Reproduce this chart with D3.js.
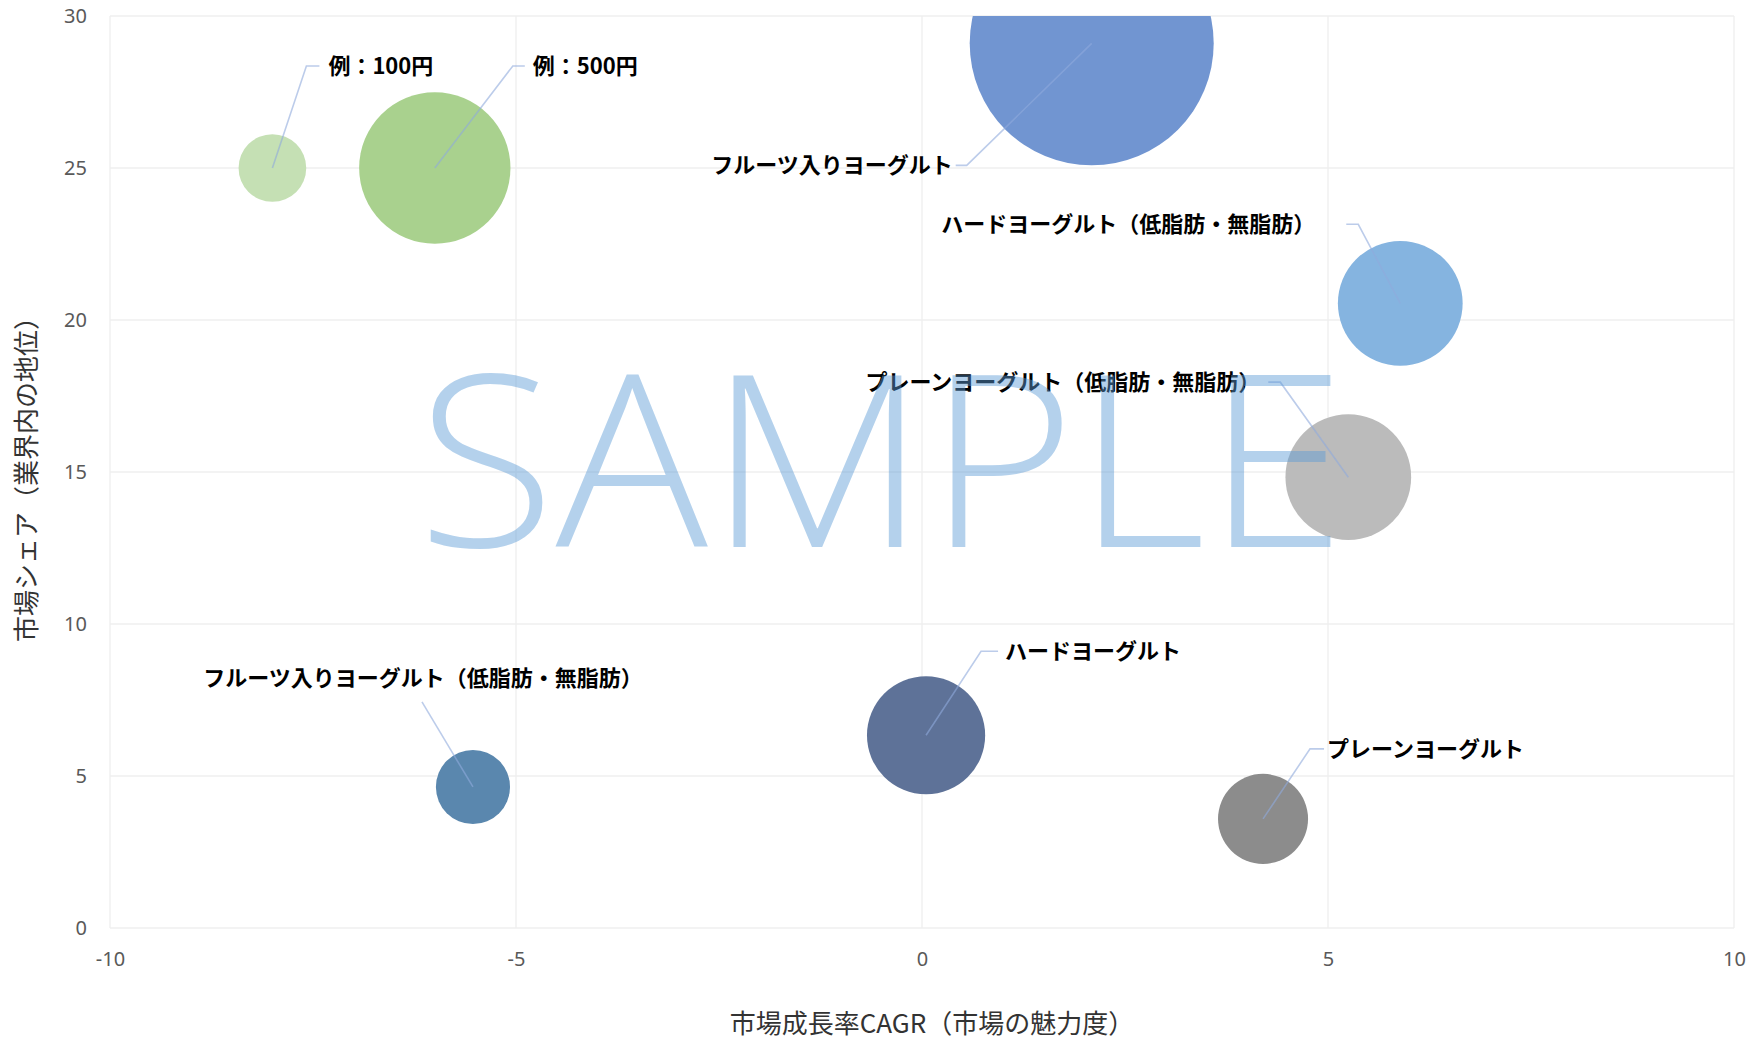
<!DOCTYPE html>
<html>
<head>
<meta charset="utf-8">
<script src="https://cdn.jsdelivr.net/npm/d3@7"></script>
<style>
  body { margin: 0; background: #fff; }
  svg { display: block; }
</style>
</head>
<body>
<svg id="chart" width="1763" height="1040"></svg>
<script>
// bubble data
var names = [
  "例：100円",
  "例：500円",
  "フルーツ入りヨーグルト",
  "ハードヨーグルト（低脂肪・無脂肪）",
  "プレーンヨーグルト（低脂肪・無脂肪）",
  "フルーツ入りヨーグルト（低脂肪・無脂肪）",
  "ハードヨーグルト",
  "プレーンヨーグルト"
];
var cagr  = [-8, -6, 2.09, 5.89, 5.25, -5.53, 0.05, 4.2];
var share = [25, 25, 29.1, 20.55, 14.83, 4.64, 6.34, 3.59];
var sales = [100, 500, 1300, 340, 345, 120, 305, 177];
var colors = ["#C5E0B4", "#A9D18E", "#7195D1", "#85B4E0", "#BBBBBB", "#5A87AE", "#5E7298", "#8C8C8C"];

var xTicks = [-10, -5, 0, 5, 10];
var yTicks = [0, 5, 10, 15, 20, 25, 30];

// where each data label sits, relative to its bubble (px)
var labelLayout = [
  {ex: 34,   ey: -102, sl: 13,  tx: 56,   anchor: "start"},
  {ex: 78,   ey: -102, sl: 12,  tx: 98,   anchor: "start"},
  {ex: -125, ey: 122,  sl: -11, tx: -139, anchor: "end"},
  {ex: -42,  ey: -79,  sl: -12, tx: -85,  anchor: "end"},
  {ex: -68,  ey: -95,  sl: -12, tx: -88,  anchor: "end"},
  {ex: -51,  ey: -85,  sl: 0,   tx: -50,  ty: -109, anchor: "middle"},
  {ex: 55,   ey: -84,  sl: 17,  tx: 79,   anchor: "start"},
  {ex: 47,   ey: -70,  sl: 14,  tx: 64,   anchor: "start"}
];

var svg = d3.select("#chart");
var pLeft = 110, pRight = 1734, pTop = 16, pBottom = 928;

var x = d3.scaleLinear().domain([-10, 10]).range([pLeft, pRight]);
var y = d3.scaleLinear().domain([0, 30]).range([pBottom, pTop]);
var r = d3.scaleSqrt().domain([0, d3.max(sales)]).range([0, 122]);

svg.append("defs").append("clipPath").attr("id", "plot")
  .append("rect")
  .attr("x", pLeft).attr("y", pTop)
  .attr("width", pRight - pLeft).attr("height", pBottom - pTop);

// grid
svg.append("g").selectAll("line").data(xTicks).enter().append("line")
  .attr("x1", d => x(d)).attr("x2", d => x(d))
  .attr("y1", pTop).attr("y2", pBottom)
  .attr("stroke", "#EFEFEF").attr("stroke-width", 1.3);
svg.append("g").selectAll("line").data(yTicks).enter().append("line")
  .attr("x1", pLeft).attr("x2", pRight)
  .attr("y1", d => y(d)).attr("y2", d => y(d))
  .attr("stroke", "#EFEFEF").attr("stroke-width", 1.3);

// axes (labels only, lines hidden)
var xAxis = svg.append("g")
  .attr("transform", "translate(0," + (pBottom + 31) + ")")
  .call(d3.axisBottom(x).tickValues(xTicks).tickSize(0).tickPadding(0).tickFormat(d => String(d)));
var yAxis = svg.append("g")
  .attr("transform", "translate(" + (pLeft - 23) + ",0)")
  .call(d3.axisLeft(y).tickValues(yTicks).tickSize(0).tickPadding(0).tickFormat(d => String(d)));
[xAxis, yAxis].forEach(function(a) {
  a.select(".domain").remove();
  a.selectAll("text")
    .style("font-family", "'Noto Sans', sans-serif")
    .style("font-size", "20px")
    .attr("fill", "#595959");
});
xAxis.selectAll("text").attr("dy", "0.35em");

// bubbles
var pts = names.map(function(n, i) {
  return {name: n, cx: x(cagr[i]), cy: y(share[i]), r: r(sales[i]), color: colors[i], lay: labelLayout[i]};
});

svg.append("g").attr("clip-path", "url(#plot)")
  .selectAll("circle").data(pts).enter().append("circle")
  .attr("cx", d => d.cx).attr("cy", d => d.cy).attr("r", d => d.r)
  .attr("fill", d => d.color);

// leader lines
svg.append("g").selectAll("polyline").data(pts).enter().append("polyline")
  .attr("points", function(d) {
    var ex = d.cx + d.lay.ex, ey = d.cy + d.lay.ey;
    return [[d.cx, d.cy], [ex, ey], [ex + d.lay.sl, ey]].join(" ");
  })
  .attr("fill", "none")
  .attr("stroke", "#8FAADC").attr("stroke-opacity", 0.6).attr("stroke-width", 1.6);

// data labels
svg.append("g").selectAll("text").data(pts).enter().append("text")
  .attr("x", d => d.cx + d.lay.tx)
  .attr("y", d => d.cy + (d.lay.ty !== undefined ? d.lay.ty : d.lay.ey))
  .attr("dy", "0.35em")
  .attr("text-anchor", d => d.lay.anchor)
  .style("font-family", "'Noto Sans CJK JP', sans-serif")
  .style("font-weight", "bold")
  .style("font-size", "22px")
  .attr("fill", "#000")
  .text(d => d.name);

// axis titles
svg.append("text")
  .attr("x", 932).attr("y", 1024).attr("dy", "0.35em")
  .attr("text-anchor", "middle")
  .style("font-family", "'Noto Sans CJK JP', sans-serif")
  .style("font-size", "26px").attr("fill", "#333")
  .text("市場成長率CAGR（市場の魅力度）");
svg.append("text")
  .attr("transform", "translate(27,473) rotate(-90)")
  .attr("dy", "0.35em")
  .attr("text-anchor", "middle")
  .style("font-family", "'Noto Sans CJK JP', sans-serif")
  .style("font-size", "26px").attr("fill", "#333")
  .text("市場シェア（業界内の地位）");

// watermark
svg.append("text")
  .attr("x", 417).attr("y", 547)
  .attr("textLength", 929).attr("lengthAdjust", "spacingAndGlyphs")
  .style("font-family", "'Open Sans', sans-serif")
  .style("font-weight", 300)
  .style("font-size", "240px")
  .attr("fill", "#5B9BD5").attr("fill-opacity", 0.46)
  .text("SAMPLE");
</script>
</body>
</html>
